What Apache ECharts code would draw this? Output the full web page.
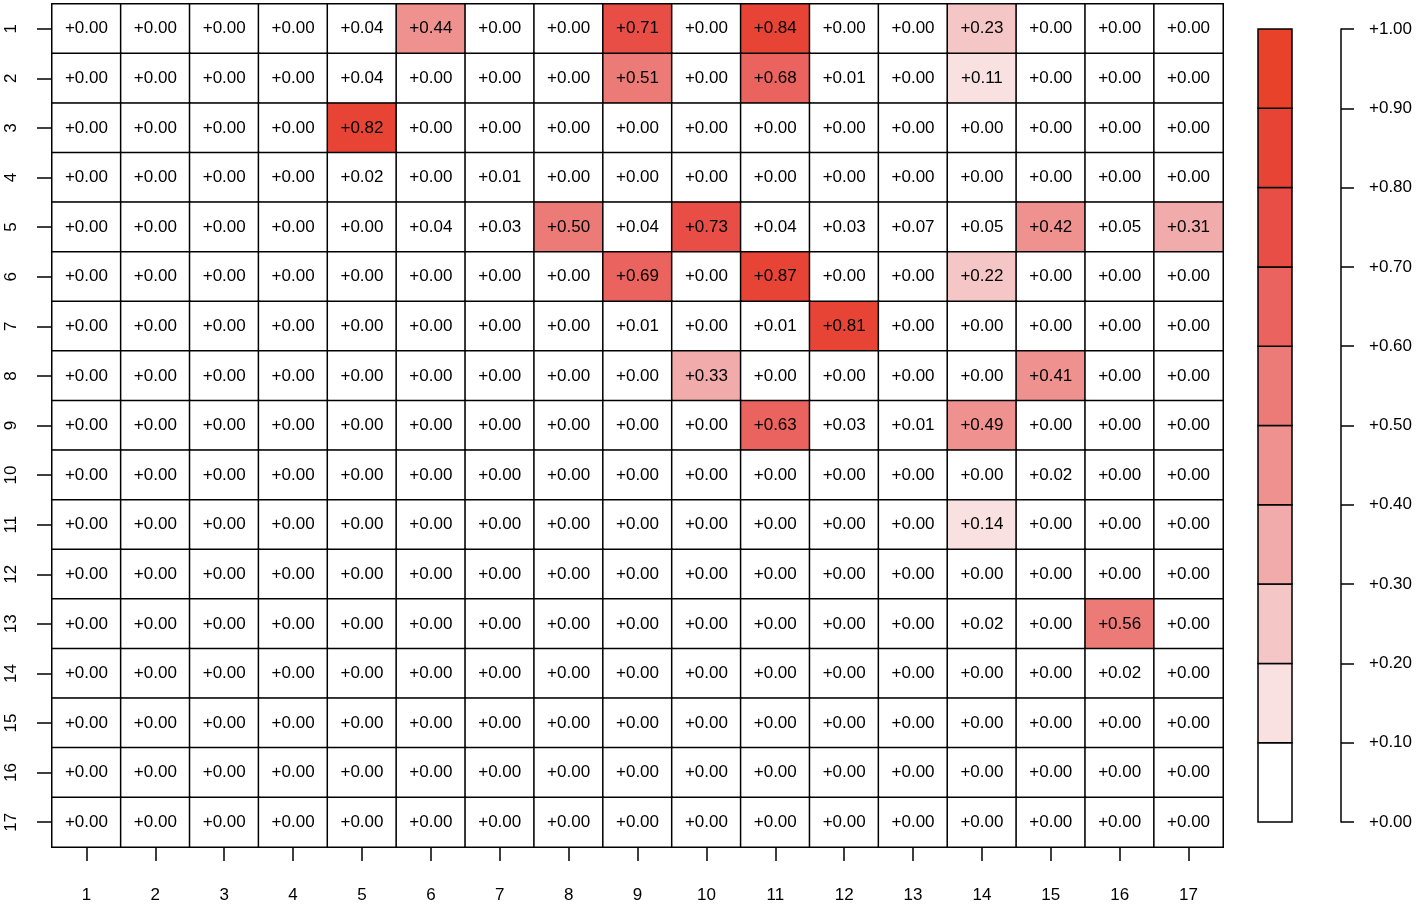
<!DOCTYPE html>
<html>
<head>
<meta charset="utf-8">
<script src="https://cdn.jsdelivr.net/npm/echarts@6/dist/echarts.min.js"></script>
<style>
  html, body { margin: 0; padding: 0; background: #fff; }
  #chart { width: 1416px; height: 906px; }
</style>
</head>
<body>
<div id="chart"></div>
<script>
const rowLabels = ['1','2','3','4','5','6','7','8','9','10','11','12','13','14','15','16','17']
const colLabels = ['1','2','3','4','5','6','7','8','9','10','11','12','13','14','15','16','17']

// values, one row per y label (top to bottom)
const matrix = [
  [0,0,0,0,0.04,0.44,0,0,0.71,0,0.84,0,0,0.23,0,0,0],
  [0,0,0,0,0.04,0,0,0,0.51,0,0.68,0.01,0,0.11,0,0,0],
  [0,0,0,0,0.82,0,0,0,0,0,0,0,0,0,0,0,0],
  [0,0,0,0,0.02,0,0.01,0,0,0,0,0,0,0,0,0,0],
  [0,0,0,0,0,0.04,0.03,0.50,0.04,0.73,0.04,0.03,0.07,0.05,0.42,0.05,0.31],
  [0,0,0,0,0,0,0,0,0.69,0,0.87,0,0,0.22,0,0,0],
  [0,0,0,0,0,0,0,0,0.01,0,0.01,0.81,0,0,0,0,0],
  [0,0,0,0,0,0,0,0,0,0.33,0,0,0,0,0.41,0,0],
  [0,0,0,0,0,0,0,0,0,0,0.63,0.03,0.01,0.49,0,0,0],
  [0,0,0,0,0,0,0,0,0,0,0,0,0,0,0.02,0,0],
  [0,0,0,0,0,0,0,0,0,0,0,0,0,0.14,0,0,0],
  [0,0,0,0,0,0,0,0,0,0,0,0,0,0,0,0,0],
  [0,0,0,0,0,0,0,0,0,0,0,0,0,0.02,0,0.56,0],
  [0,0,0,0,0,0,0,0,0,0,0,0,0,0,0,0.02,0],
  [0,0,0,0,0,0,0,0,0,0,0,0,0,0,0,0,0],
  [0,0,0,0,0,0,0,0,0,0,0,0,0,0,0,0,0],
  [0,0,0,0,0,0,0,0,0,0,0,0,0,0,0,0,0]
]

// colour key bins
const binLow  = [0.0, 0.1, 0.2, 0.3, 0.4, 0.5, 0.6, 0.7, 0.8, 0.9]
const binHigh = [0.1, 0.2, 0.3, 0.4, 0.5, 0.6, 0.7, 0.8, 0.9, 1.0]
const binColors = ['#ffffff', '#fae1e1', '#f5c6c6', '#f1abaa', '#ee918f',
                   '#ec7a76', '#ea635e', '#e94e46', '#e84436', '#e9422a']

const FONT = "'Liberation Sans', Arial, sans-serif"
const fmt = v => '+' + v.toFixed(2)

let cells = []
matrix.forEach((row, r) => {
  row.forEach((v, c) => {
    cells.push([c, r, v])
  })
})

let pieces = binLow.map((lo, i) => {
  let p = {gte: lo, color: binColors[i]}
  if (i === binLow.length - 1) p.lte = binHigh[i]
  else p.lt = binHigh[i]
  return p
})

let keyData = binLow.map((lo, i) => [0, lo, binHigh[i]])

let chart = echarts.init(document.getElementById('chart'))
let option = {
  animation: false,
  textStyle: {fontFamily: FONT},
  grid: [
    {left: 52, top: 4, width: 1171, height: 843, show: true, borderColor: '#999', borderWidth: 1, backgroundColor: 'transparent'},
    {left: 1258, top: 29, width: 34, height: 793}
  ],
  xAxis: [
    {
      type: 'category', gridIndex: 0, data: colLabels, position: 'bottom',
      axisLine: {show: false},
      axisTick: {show: true, alignWithLabel: true, length: 14, lineStyle: {color: '#000', width: 1.5}},
      axisLabel: {margin: 40, fontSize: 17, color: '#000', fontFamily: FONT},
      splitLine: {show: false}
    },
    {type: 'category', gridIndex: 1, data: ['key'], show: false}
  ],
  yAxis: [
    {
      type: 'category', gridIndex: 0, data: rowLabels, inverse: true,
      axisLine: {show: false},
      axisTick: {show: true, alignWithLabel: true, length: 15, lineStyle: {color: '#000', width: 1.5}},
      axisLabel: {margin: 32, fontSize: 17, color: '#000', rotate: 90, fontFamily: FONT},
      splitLine: {show: false}
    },
    {
      type: 'value', gridIndex: 1, min: 0, max: 1, interval: 0.1, position: 'right', offset: 49,
      axisLine: {show: true, lineStyle: {color: '#000', width: 1.5}},
      axisTick: {show: true, length: 13, lineStyle: {color: '#000', width: 1.5}},
      axisLabel: {margin: 28, fontSize: 17, color: '#000', formatter: v => fmt(v), fontFamily: FONT},
      splitLine: {show: false}
    }
  ],
  visualMap: {
    type: 'piecewise', show: false, seriesIndex: 0, dimension: 2,
    pieces: pieces
  },
  series: [
    {
      type: 'heatmap', xAxisIndex: 0, yAxisIndex: 0, data: cells,
      itemStyle: {borderColor: '#000', borderWidth: 1.5},
      label: {
        show: true, fontSize: 17, color: '#000', fontFamily: FONT,
        formatter: p => fmt(p.value[2])
      },
      emphasis: {disabled: true}
    },
    {
      type: 'custom', xAxisIndex: 1, yAxisIndex: 1, data: keyData,
      encode: {x: 0, y: [1, 2]},
      renderItem: (params, api) => {
        let top = api.coord([0, api.value(2)])
        let bot = api.coord([0, api.value(1)])
        let w = api.size([1, 0])[0]
        return {
          type: 'rect',
          shape: {x: top[0] - w / 2, y: top[1], width: w, height: bot[1] - top[1]},
          style: {fill: binColors[params.dataIndex], stroke: '#000', lineWidth: 1.5}
        }
      }
    }
  ]
}
chart.setOption(option)
</script>
</body>
</html>
